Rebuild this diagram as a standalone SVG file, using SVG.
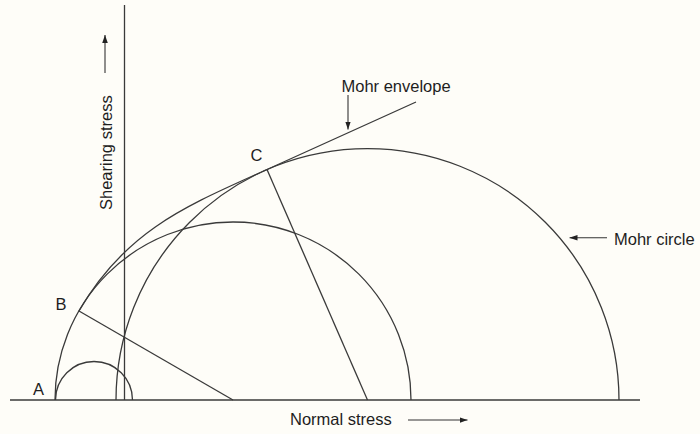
<svg xmlns="http://www.w3.org/2000/svg" width="700" height="434" viewBox="0 0 700 434">
<defs>
<marker id="ah" viewBox="0 0 10 10" refX="10" refY="5" markerWidth="8" markerHeight="8" markerUnits="userSpaceOnUse" orient="auto">
<path d="M0,1.5 L10,5 L0,8.5 z" fill="#222"/>
</marker>
<style>
.ln{fill:none;stroke:#3a3a3a;stroke-width:1.3}
.ar{fill:none;stroke:#333;stroke-width:1.1;marker-end:url(#ah)}
.tx{font-family:"Liberation Sans",Arial,sans-serif;font-size:16.5px;fill:#1e1e1e}
</style>
</defs>
<rect width="700" height="434" fill="#fefdf8"/>
<g id="axes">
<line class="ln" x1="10" y1="400" x2="640" y2="400"/>
<line class="ln" x1="124.5" y1="5" x2="124.5" y2="400"/>
</g>
<g id="circles">
<path id="small-circle" class="ln" d="M55.5,400 A38.5,38.5 0 0 1 132.5,400"/>
<path id="middle-circle" class="ln" d="M55,400 A178,178 0 0 1 411,400"/>
<path id="mohr-circle" class="ln" d="M116,400 A251.5,251.5 0 0 1 619,400"/>
</g>
<g id="connectors">
<path id="envelope" class="ln" d="M79,311 C126.5,228.7 189.6,204.6 267,169.5 L416,102"/>
<line class="ln" x1="79" y1="311" x2="233" y2="400"/>
<line class="ln" x1="267" y1="169.5" x2="367.5" y2="400"/>
<line class="ar" x1="348" y1="95" x2="348" y2="129.5"/>
<line class="ar" x1="607" y1="237.7" x2="569.5" y2="237.7"/>
<line class="ar" x1="408" y1="420" x2="467.5" y2="420"/>
<line class="ar" x1="105" y1="73" x2="105" y2="35"/>
</g>
<g id="labels">
<text class="tx" x="341.5" y="91.5">Mohr envelope</text>
<text class="tx" x="614" y="245">Mohr circle</text>
<text class="tx" x="290" y="425">Normal stress</text>
<text class="tx" transform="translate(112,210) rotate(-90)">Shearing stress</text>
<text class="tx" x="33" y="395">A</text>
<text class="tx" x="55.5" y="310">B</text>
<text class="tx" x="250.5" y="160.5">C</text>
</g>
</svg>
